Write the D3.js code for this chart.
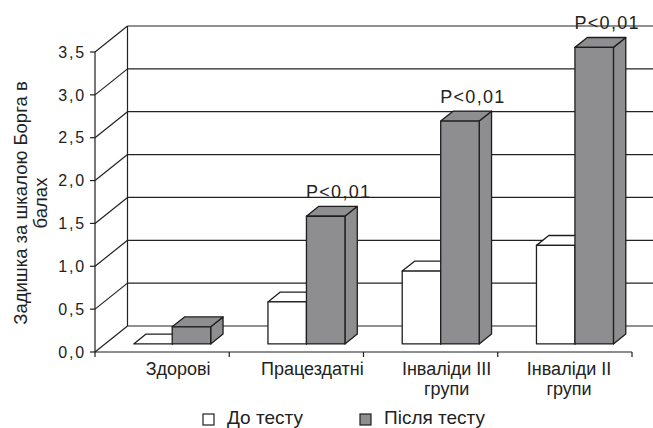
<!DOCTYPE html>
<html lang="uk">
<head>
<meta charset="utf-8">
<script src="https://cdn.jsdelivr.net/npm/d3@7"></script>
<style>
  html, body { margin: 0; padding: 0; background: #fff; }
  svg { display: block; font-family: "Liberation Sans", Arial, sans-serif; }
</style>
</head>
<body>
<svg id="chart" width="653" height="428"></svg>
<script>
// Dyspnoea (Borg scale) before and after the test, by group
const categories = ["Здорові", "Працездатні", "Інваліди III групи", "Інваліди II групи"];
const categoryLines = [["Здорові"], ["Працездатні"], ["Інваліди III", "групи"], ["Інваліди II", "групи"]];
const seriesNames = ["До тесту", "Після тесту"];
const beforeTest = [0, 0.49, 0.85, 1.15];
const afterTest = [0.2, 1.49, 2.6, 3.46];
const significance = ["", "P<0,01", "P<0,01", "P<0,01"];
const yTicks = [0, 0.5, 1, 1.5, 2, 2.5, 3, 3.5];
const yTitleLines = ["Задишка за шкалою Борга в", "балах"];

const W = 653, H = 428;
const svg = d3.select("#chart");

// front plane of the 3-D box
const y = d3.scaleLinear().domain([0, 3.5]).range([352, 52]);
const x = d3.scaleBand().domain(categories).range([95, 632]).padding(0);
const xs = d3.scaleBand().domain([0, 1]).range([0, x.bandwidth()]).paddingInner(0).paddingOuter(0.744);

// depth of the box (back wall offset) and of the bars within it
const DX = 32.5, DY = -26;
const barFront = 0.31, barBack = 0.69;
const proj = (px, v, f) => [px + f * DX, y(v) + f * DY];

const ink = "#1e1e1e";
const grey = "#8e8e90";

// left wall diagonals and back wall gridlines
const grid = svg.append("g").attr("stroke", "#222").attr("stroke-width", 1.2).attr("fill", "none");
yTicks.forEach(v => {
  const a = proj(95, v, 0), b = proj(95, v, 1), c = proj(632 + 60, v, 1);
  grid.append("line").attr("x1", a[0]).attr("y1", a[1]).attr("x2", b[0]).attr("y2", b[1]);
  grid.append("line").attr("x1", b[0]).attr("y1", b[1]).attr("x2", c[0]).attr("y2", c[1]);
});
{
  const t = proj(95, 3.5, 1), bt = proj(95, 0, 1);
  grid.append("line").attr("x1", t[0]).attr("y1", t[1]).attr("x2", bt[0]).attr("y2", bt[1]);
}

// bars
const bars = svg.append("g").attr("stroke", ink).attr("stroke-width", 1.3).attr("stroke-linejoin", "round");
const poly = pts => pts.map(p => p.join(",")).join(" ");
function drawBar(g, x1, x2, v, fill) {
  const fb1 = proj(x1, 0, barFront), fb2 = proj(x2, 0, barFront);
  const ft1 = proj(x1, v, barFront), ft2 = proj(x2, v, barFront);
  const bt1 = proj(x1, v, barBack), bt2 = proj(x2, v, barBack);
  const bb2 = proj(x2, 0, barBack);
  g.append("polygon").attr("points", poly([fb2, ft2, bt2, bb2])).attr("fill", fill);
  g.append("polygon").attr("points", poly([ft1, ft2, bt2, bt1])).attr("fill", fill);
  if (v > 0) g.append("polygon").attr("points", poly([fb1, fb2, ft2, ft1])).attr("fill", fill);
}
categories.forEach((c, i) => {
  const x0 = x(c);
  drawBar(bars, x0 + xs(0), x0 + xs(0) + xs.bandwidth(), beforeTest[i], "#fff");
  drawBar(bars, x0 + xs(1), x0 + xs(1) + xs.bandwidth(), afterTest[i], grey);
});

// significance labels above the "after" bars
categories.forEach((c, i) => {
  if (!significance[i]) return;
  const x1 = x(c) + xs(1);
  const tb = proj(x1 + xs.bandwidth() / 2, afterTest[i], barBack);
  svg.append("text")
    .attr("x", tb[0] + 0.6).attr("y", tb[1] - 8)
    .attr("text-anchor", "middle")
    .attr("font-size", 18).attr("letter-spacing", 1.3)
    .attr("fill", "#222")
    .text(significance[i]);
});

// y axis
const yAxis = svg.append("g").attr("stroke", ink).attr("stroke-width", 1.2);
yAxis.append("line").attr("x1", 95).attr("x2", 95).attr("y1", y(0)).attr("y2", y(3.5));
yTicks.forEach(v => {
  yAxis.append("line").attr("x1", 90).attr("x2", 95).attr("y1", y(v)).attr("y2", y(v));
});
svg.append("g").selectAll("text").data(yTicks).join("text")
  .attr("x", 86).attr("y", d => y(d)).attr("dy", "0.36em")
  .attr("text-anchor", "end")
  .attr("font-size", 16).attr("letter-spacing", 1.8)
  .attr("fill", "#222")
  .text(d => d3.format(".1f")(d).replace(".", ","));

// x axis
const xAxis = svg.append("g").attr("stroke", ink).attr("stroke-width", 1.2);
xAxis.append("line").attr("x1", 95).attr("x2", 632).attr("y1", y(0)).attr("y2", y(0));
[...categories.map(c => x(c)), 632].forEach(px => {
  xAxis.append("line").attr("x1", px).attr("x2", px).attr("y1", y(0)).attr("y2", y(0) + 5);
});
categories.forEach((c, i) => {
  const cx = Math.min(x(c) + x.bandwidth() / 2 + 16, W - 84);
  const t = svg.append("text").attr("text-anchor", "middle").attr("font-size", 18).attr("fill", "#222");
  categoryLines[i].forEach((line, k) => {
    t.append("tspan").attr("x", cx).attr("y", 374.5 + k * 20.3).text(line);
  });
});

// y axis title
const yt = svg.append("text")
  .attr("transform", "translate(0,203) rotate(-90)")
  .attr("text-anchor", "middle").attr("font-size", 18.5).attr("fill", "#222");
yTitleLines.forEach((line, k) => {
  yt.append("tspan").attr("x", 0).attr("y", 27 + k * 20).text(line);
});

// legend
const legendX = [203, 360];
const legend = svg.append("g");
seriesNames.forEach((name, i) => {
  legend.append("rect")
    .attr("x", legendX[i]).attr("y", 414).attr("width", 11).attr("height", 11)
    .attr("fill", i === 0 ? "#fff" : grey).attr("stroke", ink).attr("stroke-width", 1.2);
  legend.append("text")
    .attr("x", legendX[i] + 24).attr("y", 423.5)
    .attr("font-size", 19).attr("fill", "#222")
    .text(name);
});
</script>
</body>
</html>
